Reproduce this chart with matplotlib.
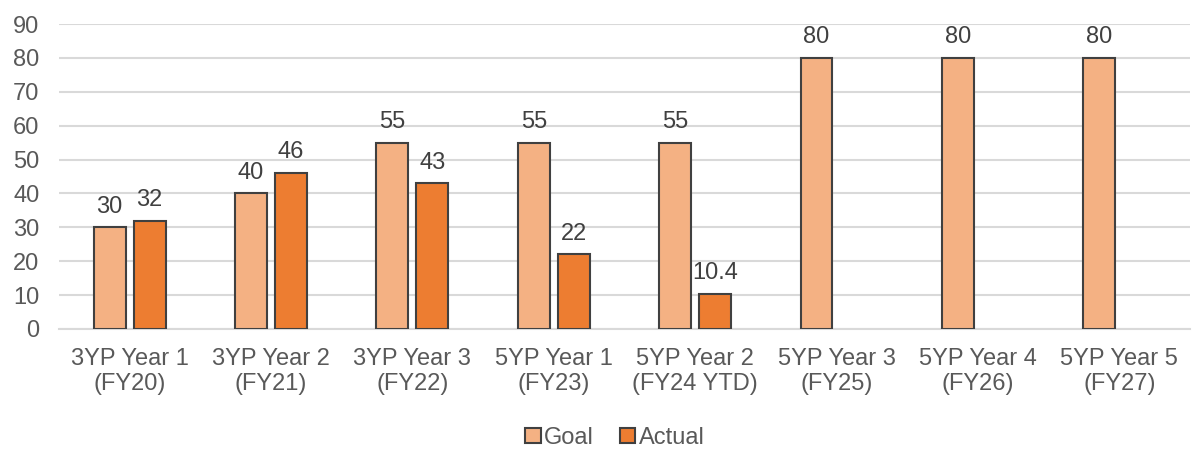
import matplotlib
matplotlib.use("Agg")
import matplotlib.pyplot as plt
import numpy as np

categories = ["3YP Year 1\n(FY20)", "3YP Year 2\n(FY21)", "3YP Year 3\n(FY22)",
              "5YP Year 1\n(FY23)", "5YP Year 2\n(FY24 YTD)", "5YP Year 3\n(FY25)",
              "5YP Year 4\n(FY26)", "5YP Year 5\n(FY27)"]
goal = [30, 40, 55, 55, 55, 80, 80, 80]
actual = [32, 46, 43, 22, 10.4, None, None, None]

plt.rcParams['font.family'] = ['Liberation Sans', 'DejaVu Sans']
text_color = "#595959"
fs = 17

fig = plt.figure(figsize=(11.94, 4.49), dpi=100)
ax = fig.add_axes([0.0494, 0.2673, 0.9472, 0.6792])

x = np.arange(len(categories))
w = 0.226
off = 0.1415
edge = "#404040"

gb = ax.bar(x - off, goal, w, color="#F4B183", edgecolor=edge, linewidth=1.5, label="Goal", zorder=3)
ax_x = [xi + off for xi, v in zip(x, actual) if v is not None]
ax_v = [v for v in actual if v is not None]
ab = ax.bar(ax_x, ax_v, w, color="#ED7D31", edgecolor=edge, linewidth=1.5, label="Actual", zorder=3)

def fmt(v):
    return f"{v:g}"

for xi, v in zip(x - off, goal):
    ax.annotate(fmt(v), (xi, v), xytext=(0, 7), textcoords="offset points",
                ha="center", va="bottom", fontsize=fs, color="#404040")
for xi, v in zip(ax_x, ax_v):
    ax.annotate(fmt(v), (xi, v), xytext=(0, 7), textcoords="offset points",
                ha="center", va="bottom", fontsize=fs, color="#404040")

ax.set_xlim(-0.5, len(categories) - 0.5)
ax.set_ylim(0, 90)
ax.set_yticks(range(0, 91, 10))
ax.set_xticks(x)
ax.set_xticklabels(categories, fontsize=fs, color=text_color, linespacing=1.15)
ax.tick_params(axis='y', labelsize=fs, labelcolor=text_color, length=0, pad=14)
ax.tick_params(axis='x', length=0, pad=14)
ax.yaxis.grid(True, color="#D9D9D9", linewidth=1.5, zorder=0)
ax.set_axisbelow(True)
for s in ["top", "right", "left"]:
    ax.spines[s].set_visible(False)
ax.spines["bottom"].set_color("#D9D9D9")
ax.spines["bottom"].set_linewidth(1.5)

leg = fig.legend(handles=[gb, ab], labels=["Goal", "Actual"], loc="center",
                 bbox_to_anchor=(0.515, 0.025), ncol=2, frameon=False,
                 fontsize=fs, handlelength=0.65, handleheight=0.65,
                 handletextpad=0.15, columnspacing=1.1)
for t in leg.get_texts():
    t.set_color(text_color)

fig.savefig("out.png", dpi=100)
